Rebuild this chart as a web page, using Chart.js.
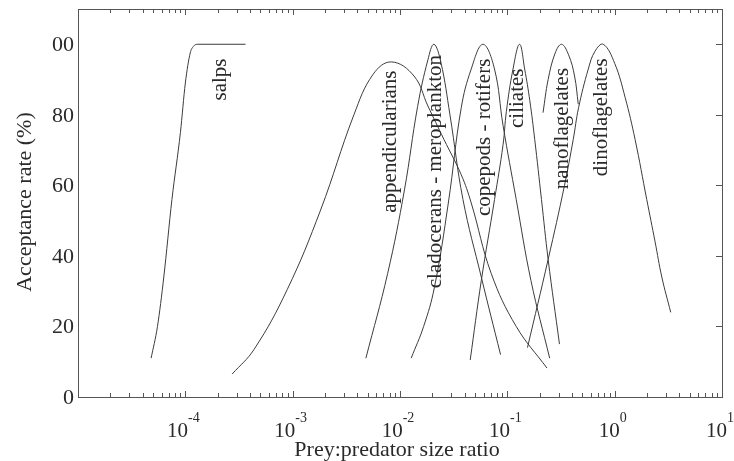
<!DOCTYPE html>
<html>
<head>
<meta charset="utf-8">
<script src="https://cdn.jsdelivr.net/npm/chart.js@4.4.0/dist/chart.umd.min.js"></script>
<style>
html, body { margin: 0; padding: 0; background: #fff; }
#wrap { width: 734px; height: 461px; }
</style>
</head>
<body>
<div id="wrap"><canvas id="chart" width="734" height="461"></canvas></div>
<script>
// prey:predator size ratio (x) and acceptance rate in % (y)
var salpsX = [4.8e-5, 5.5e-5, 6.3e-5, 7.5e-5, 9.0e-5, 1.0e-4, 1.11e-4, 1.19e-4, 1.29e-4, 3.64e-4];
var salpsY = [11, 20, 34, 56, 75, 89, 97.5, 99.4, 100, 100];

var appendX = [2.73e-4, 4.37e-4, 8.91e-4, 1.82e-3, 3.72e-3, 5.62e-3, 8.32e-3, 1.35e-2, 1.82e-2, 2.57e-2, 3.72e-2, 4.61e-2, 7.08e-2, 0.121, 0.234];
var appendY = [6.5, 13.5, 30.5, 53, 80, 91.5, 95, 91, 82.5, 73, 63, 55, 35, 20, 8.2];

var cladoX = [4.81e-3, 7.67e-3, 1.10e-2, 1.46e-2, 1.82e-2, 2.07e-2, 2.40e-2, 2.92e-2, 3.86e-2, 5.72e-2, 8.65e-2];
var cladoY = [11, 35, 58.7, 82.4, 95.6, 100, 95, 80, 56, 34, 12];

var copeX = [1.27e-2, 1.66e-2, 2.09e-2, 2.82e-2, 3.72e-2, 4.61e-2, 5.93e-2, 7.59e-2, 9.12e-2, 0.121, 0.166, 0.248];
var copeY = [11, 20, 31, 55, 82, 93, 100, 93, 77, 56, 33, 11];

var ciliX = [4.51e-2, 5.72e-2, 7.60e-2, 9.12e-2, 9.80e-2, 0.113, 0.130, 0.145, 0.162, 0.180, 0.208, 0.240, 0.306];
var ciliY = [10.5, 33, 56, 71.5, 81, 93, 100, 93, 84, 73, 56, 39, 15];

var nanoX = [0.215, 0.240, 0.279, 0.320, 0.372, 0.423, 0.458];
var nanoY = [80.6, 90, 97.5, 100, 97, 91, 83];

var dinoX = [0.154, 0.240, 0.341, 0.411, 0.461, 0.568, 0.655, 0.783, 1.0, 1.25, 1.55, 1.99, 2.38, 2.75, 3.33];
var dinoY = [14, 39, 60, 73, 82, 93, 98, 100, 94.6, 85, 73, 56, 44, 34, 24];

var seriesNames = ['salps', 'appendicularians', 'cladocerans - meroplankton', 'copepods - rotifers',
  'ciliates', 'nanoflagelates', 'dinoflagelates'];

// where each rotated name sits, in data units
var labelX = [2.12e-4, 8.07e-3, 2.12e-2, 6.09e-2, 0.124, 0.327, 0.757];
var labelY = [90, 72.4, 63.9, 73.6, 84.7, 76.1, 79.3];

var xDecades = [-4, -3, -2, -1, 0, 1];
var yTicks = [0, 20, 40, 60, 80, 100];
var yTickLabels = ['0', '20', '40', '60', '80', '00'];

var xTitle = 'Prey:predator size ratio';
var yTitle = 'Acceptance rate (%)';

function pts(xs, ys) {
  return xs.map(function(x, i) { return { x: x, y: ys[i] }; });
}

var allX = [salpsX, appendX, cladoX, copeX, ciliX, nanoX, dinoX];
var allY = [salpsY, appendY, cladoY, copeY, ciliY, nanoY, dinoY];

var datasets = allX.map(function(xs, i) {
  var ds = {
    label: seriesNames[i],
    data: pts(xs, allY[i]),
    borderColor: '#3c3c3c',
    borderWidth: 1,
    pointRadius: 0,
    fill: false,
    tension: 0.4
  };
  // the salps plateau must not bulge above 100
  if (i === 0) ds.cubicInterpolationMode = 'monotone';
  return ds;
});

var serif = '"Liberation Serif", "DejaVu Serif", serif';
var ink = '#2a2a2a';

var framePlugin = {
  id: 'frame',
  afterDraw: function(chart) {
    var ctx = chart.ctx;
    var a = chart.chartArea;
    var xs = chart.scales.x;
    var ys = chart.scales.y;
    ctx.save();

    // box
    ctx.strokeStyle = '#555';
    ctx.lineWidth = 1;
    ctx.strokeRect(Math.round(a.left) + 0.5, Math.round(a.top) + 0.5,
      Math.round(a.right - a.left), Math.round(a.bottom - a.top));

    // log ticks top and bottom
    ctx.beginPath();
    for (var e = -5; e <= 0; e++) {
      for (var m = 1; m <= 9; m++) {
        var v = m * Math.pow(10, e);
        var px = Math.round(xs.getPixelForValue(v)) + 0.5;
        var len = m === 1 ? 6 : 4;
        ctx.moveTo(px, a.bottom);
        ctx.lineTo(px, a.bottom - len);
        ctx.moveTo(px, a.top);
        ctx.lineTo(px, a.top + len);
      }
    }
    // right side ticks
    yTicks.forEach(function(v) {
      if (v === 0) return;
      var py = Math.round(ys.getPixelForValue(v)) + 0.5;
      ctx.moveTo(a.right, py);
      ctx.lineTo(a.right - 6, py);
    });
    ctx.stroke();

    ctx.fillStyle = ink;

    // y tick labels
    ctx.font = '22px ' + serif;
    ctx.textAlign = 'right';
    ctx.textBaseline = 'middle';
    yTicks.forEach(function(v, i) {
      ctx.fillText(yTickLabels[i], a.left - 4, ys.getPixelForValue(v) + 1);
    });

    // x tick labels 10^n
    ctx.textBaseline = 'alphabetic';
    xDecades.forEach(function(e) {
      var px = xs.getPixelForValue(Math.pow(10, e));
      var exp = e < 0 ? '-' + (-e) : String(e);
      ctx.font = '21px ' + serif;
      var w1 = ctx.measureText('10').width;
      ctx.font = '14px ' + serif;
      var w2 = ctx.measureText(exp).width;
      var x0 = px - (w1 + w2) / 2 - 2;
      ctx.textAlign = 'left';
      ctx.font = '21px ' + serif;
      ctx.fillText('10', x0, 437);
      ctx.font = '14px ' + serif;
      ctx.fillText(exp, x0 + w1, 422);
    });

    // axis titles
    ctx.font = '22px ' + serif;
    ctx.textAlign = 'center';
    ctx.fillText(xTitle, (a.left + a.right) / 2 - 3, 456);
    ctx.save();
    ctx.translate(31, 202);
    ctx.rotate(-Math.PI / 2);
    ctx.fillText(yTitle, 0, 0);
    ctx.restore();

    // curve names, rotated
    ctx.font = '21px ' + serif;
    ctx.textBaseline = 'middle';
    seriesNames.forEach(function(name, i) {
      ctx.save();
      ctx.translate(xs.getPixelForValue(labelX[i]), ys.getPixelForValue(labelY[i]));
      ctx.rotate(-Math.PI / 2);
      ctx.fillText(name, 0, 0);
      ctx.restore();
    });

    ctx.restore();
  }
};

new Chart(document.getElementById('chart').getContext('2d'), {
  type: 'line',
  data: { datasets: datasets },
  options: {
    responsive: false,
    animation: false,
    layout: { padding: { left: 78, top: 9, right: 12, bottom: 64 } },
    plugins: { legend: { display: false }, tooltip: { enabled: false } },
    scales: {
      x: { type: 'logarithmic', min: 1e-5, max: 10, display: false },
      y: { type: 'linear', min: 0, max: 110, display: false }
    }
  },
  plugins: [framePlugin]
});
</script>
</body>
</html>
